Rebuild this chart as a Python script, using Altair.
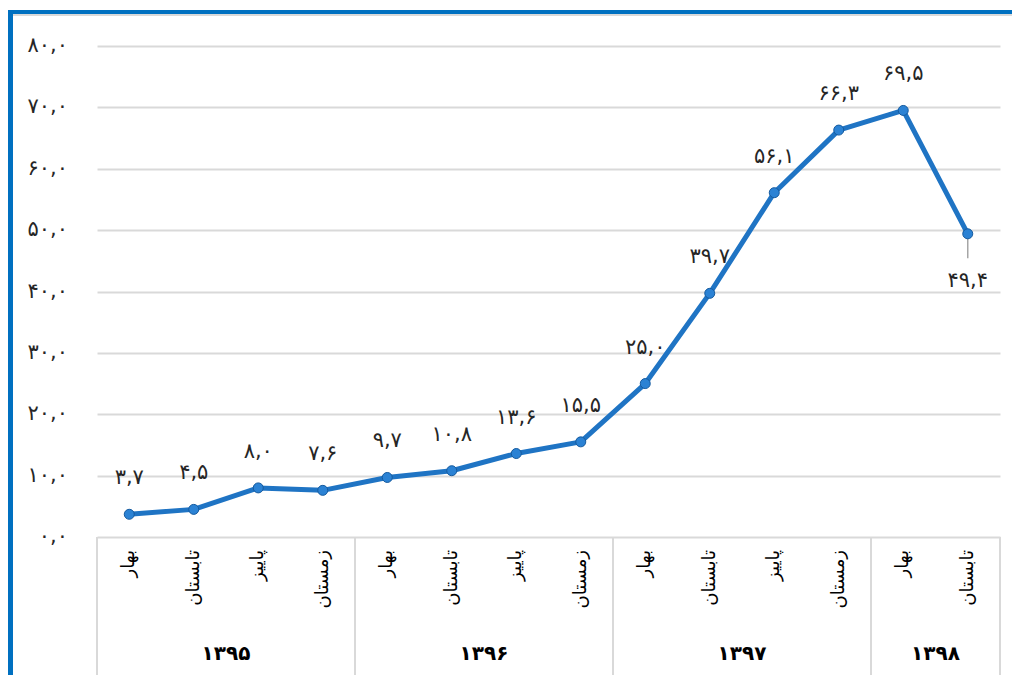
import altair as alt
import pandas as pd

# ---- data ----
seasons = ["بهار", "تابستان", "پاییز", "زمستان",
           "بهار", "تابستان", "پاییز", "زمستان",
           "بهار", "تابستان", "پاییز", "زمستان",
           "بهار", "تابستان"]
years = ["۱۳۹۵"] * 4 + ["۱۳۹۶"] * 4 + ["۱۳۹۷"] * 4 + ["۱۳۹۸"] * 2
values = [3.7, 4.5, 8.0, 7.6, 9.7, 10.8, 13.6, 15.5, 25.0, 39.7, 56.1, 66.3, 69.5, 49.4]
tick_values = [0, 10, 20, 30, 40, 50, 60, 70, 80]

FA = str.maketrans("0123456789", "۰۱۲۳۴۵۶۷۸۹")


def fa(v):
    return f"{v:.1f}".replace(".", ",").translate(FA)


df = pd.DataFrame({
    "i": list(range(len(values))),
    "season": seasons,
    "year": years,
    "value": values,
    "label": [fa(v) for v in values],
})
ticks_df = pd.DataFrame({"t": tick_values, "tl": [fa(t) for t in tick_values]})

W, H = 903, 491
FONT = "DejaVu Sans"
BLUE = "#1f74c4"
GRID = "#d9d9d9"

xs = alt.Scale(domain=[-0.5, len(values) - 0.5], nice=False, zero=False)
ys = alt.Scale(domain=[0, 80], nice=False)

base = alt.Chart(df)
X = alt.X("i:Q", scale=xs, axis=None)

line = base.mark_line(color=BLUE, strokeWidth=5, strokeJoin="round").encode(
    x=X,
    y=alt.Y("value:Q", scale=ys,
            axis=alt.Axis(values=tick_values, labels=False, ticks=False, domain=False,
                          grid=True, gridColor=GRID, gridWidth=2, title=None)),
)
points = base.mark_point(shape="circle", filled=True, size=100, color="#2b82d4",
                         stroke="#155a9e", strokeWidth=1, opacity=1).encode(
    x=X, y=alt.Y("value:Q", scale=ys))

labels_above = base.transform_filter(f"datum.i < {len(values) - 1}").mark_text(
    font=FONT, fontSize=21, color="#262626", dy=-36, baseline="middle").encode(
    x=X, y=alt.Y("value:Q", scale=ys), text="label:N")
labels_below = base.transform_filter(f"datum.i == {len(values) - 1}").mark_text(
    font=FONT, fontSize=21, color="#262626", dy=47, baseline="middle").encode(
    x=X, y=alt.Y("value:Q", scale=ys), text="label:N")
leader = base.transform_filter(f"datum.i == {len(values) - 1}").transform_calculate(
    v2="datum.value - 4").mark_rule(color="#a6a6a6", strokeWidth=1.5).encode(
    x=X, y=alt.Y("value:Q", scale=ys), y2="v2:Q")

season_text = base.mark_text(font=FONT, fontSize=18, color="#000000", angle=270,
                             align="right", baseline="middle").encode(
    x=X, y=alt.value(H + 13), text="season:N")

year_text = base.transform_aggregate(yc="mean(i)", groupby=["year"]).mark_text(
    font=FONT, fontSize=20, fontWeight="bold", color="#000000", baseline="middle").encode(
    x=alt.X("yc:Q", scale=xs, axis=None), y=alt.value(H + 117), text="year:N")

sep_left = base.transform_aggregate(mn="min(i)", groupby=["year"]).transform_calculate(
    bl="datum.mn - 0.5").mark_rule(color=GRID, strokeWidth=2).encode(
    x=alt.X("bl:Q", scale=xs, axis=None), y=alt.value(H), y2=alt.value(H + 138))
sep_right = base.transform_aggregate(mx="max(i)", groupby=["year"]).transform_calculate(
    br="datum.mx + 0.5").mark_rule(color=GRID, strokeWidth=2).encode(
    x=alt.X("br:Q", scale=xs, axis=None), y=alt.value(H), y2=alt.value(H + 138))

ytick_text = alt.Chart(ticks_df).mark_text(font=FONT, fontSize=21, color="#262626",
                                           align="right", baseline="middle").encode(
    x=alt.value(-29), y=alt.Y("t:Q", scale=ys), text="tl:N")

frame_left = alt.Chart(ticks_df.head(1)).mark_rule(color="#0070c0", strokeWidth=5).encode(
    x=alt.value(-86.5), y=alt.value(-36), y2=alt.value(H + 140))
frame_top = alt.Chart(ticks_df.head(1)).mark_rule(color="#0070c0", strokeWidth=4).encode(
    x=alt.value(-89), x2=alt.value(W + 20), y=alt.value(-34))
frame_top2 = alt.Chart(ticks_df.head(1)).mark_rule(color=GRID, strokeWidth=2).encode(
    x=alt.value(-84), x2=alt.value(W + 20), y=alt.value(-31))

chart = alt.layer(
    sep_left, sep_right, line, leader, points, labels_above, labels_below,
    season_text, year_text, ytick_text, frame_left, frame_top, frame_top2,
).properties(
    width=W, height=H,
    autosize=alt.AutoSizeParams(type="none"),
    padding={"left": 89, "top": 38, "right": 12, "bottom": 138},
    background="white",
).configure_view(stroke=None)

chart.save("out.html", embed_options={"renderer": "svg", "actions": False})
